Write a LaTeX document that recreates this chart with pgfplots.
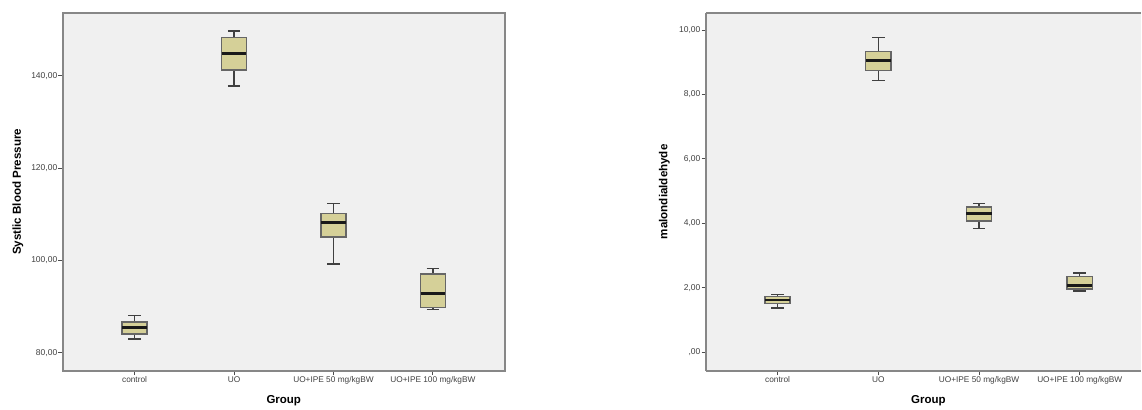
\documentclass[border=0pt]{standalone}
\usepackage{fontspec}
\setmainfont{Liberation Sans}
\usepackage{pgfplots}
\pgfplotsset{compat=1.18}
\usepgfplotslibrary{statistics}
\definecolor{bgc}{RGB}{240,240,240}
\definecolor{boxc}{RGB}{213,208,152}
\definecolor{framec}{RGB}{135,135,135}
\pgfplotsset{
 spss/.style={
  scale only axis, height=358pt,
  axis background/.style={fill=bgc},
  axis line style={framec, line width=2pt},
  tick align=outside, major tick length=4.5pt,
  tick style={black!70, line width=1pt},
  xtick pos=bottom, ytick pos=left,
  xtick={0,1,2,3},
  xticklabels={control,UO,UO+IPE 50 mg/kgBW,UO+IPE 100 mg/kgBW},
  xticklabel style={font=\fontsize{8.3}{9}\selectfont, text=black!75, inner sep=1.5pt},
  yticklabel style={font=\fontsize{8.5}{9}\selectfont, text=black!75, inner sep=1pt},
  xlabel=Group,
  xlabel style={font=\bfseries\fontsize{11.5}{12}\selectfont, anchor=center, yshift=-30pt},
  ylabel style={font=\bfseries\fontsize{11.6}{12}\selectfont, anchor=center},
  boxplot/draw direction=y,
  boxplot/box extend=0.25,
  boxplot/whisker extend=0.125,
  boxplot/every box/.style={draw=black!60, fill=boxc, line width=1.5pt},
  boxplot/every whisker/.style={black!75, line width=1.4pt},
  boxplot/every median/.style={black!90, line width=2.6pt},
 }
}
\begin{document}
\begin{tikzpicture}
\path (0,0) rectangle (1142pt,407pt);
\begin{axis}[spss, at={(63pt,36pt)}, anchor=south west, width=442pt,
  xmin=-0.72, xmax=3.72, ymin=76.1, ymax=153.6,
  ytick={80,100,120,140}, yticklabels={{80,00},{100,00},{120,00},{140,00}},
  ylabel={Systlic Blood Pressure},
  xlabel style={at={(axis description cs:0.5,0)}},
  ylabel style={at={(axis description cs:-0.102,0.5)}}]
\addplot[boxplot prepared={draw position=0, lower whisker=83.0, lower quartile=84.0, median=85.5, upper quartile=86.6, upper whisker=88.0}] coordinates {};
\addplot[boxplot prepared={draw position=1, lower whisker=137.8, lower quartile=141.3, median=144.8, upper quartile=148.3, upper whisker=149.7}] coordinates {};
\addplot[boxplot prepared={draw position=2, lower whisker=99.2, lower quartile=105.1, median=108.2, upper quartile=110.2, upper whisker=112.3}] coordinates {};
\addplot[boxplot prepared={draw position=3, lower whisker=89.3, lower quartile=89.8, median=92.8, upper quartile=97.1, upper whisker=98.2}] coordinates {};
\end{axis}
\begin{axis}[spss, at={(706.7pt,36pt)}, anchor=south west, width=435.3pt,
  axis x line*=box, axis y line*=left,
  xmin=-0.71, xmax=3.608, ymin=-0.57, ymax=10.53,
  ytick={0,2,4,6,8,10}, yticklabels={{,00},{2,00},{4,00},{6,00},{8,00},{10,00}},
  ylabel={malondialdehyde},
  xlabel style={at={(axis description cs:0.511,0)}},
  ylabel style={at={(axis description cs:-0.0958,0.5)}}]
\addplot[boxplot prepared={draw position=0, lower whisker=1.38, lower quartile=1.52, median=1.62, upper quartile=1.73, upper whisker=1.80}] coordinates {};
\addplot[boxplot prepared={draw position=1, lower whisker=8.43, lower quartile=8.74, median=9.06, upper quartile=9.33, upper whisker=9.77}] coordinates {};
\addplot[boxplot prepared={draw position=2, lower whisker=3.84, lower quartile=4.08, median=4.30, upper quartile=4.51, upper whisker=4.62}] coordinates {};
\addplot[boxplot prepared={draw position=3, lower whisker=1.90, lower quartile=1.96, median=2.08, upper quartile=2.36, upper whisker=2.46}] coordinates {};
\end{axis}
\end{tikzpicture}
\end{document}
